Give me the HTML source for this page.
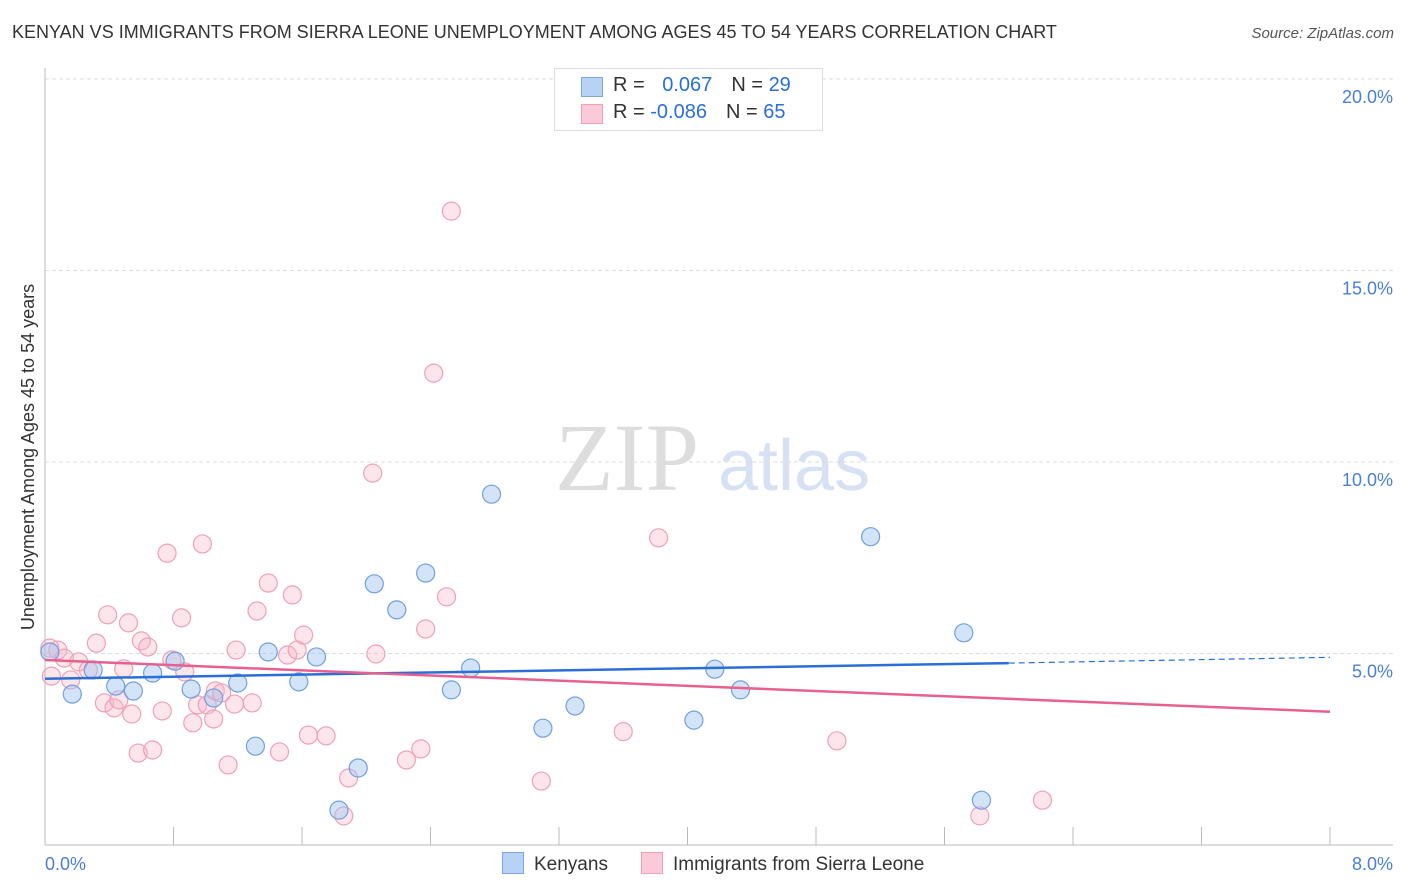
<!DOCTYPE html>
<html><head><meta charset="utf-8"><style>
body{margin:0;background:#fff;font-family:"Liberation Sans",sans-serif;}
#wrap{position:relative;width:1406px;height:892px;overflow:hidden}
.t{position:absolute;white-space:nowrap}
</style></head><body><div id="wrap">
<div class="t" style="left:12px;top:22px;font-size:18px;color:#333">KENYAN VS IMMIGRANTS FROM SIERRA LEONE UNEMPLOYMENT AMONG AGES 45 TO 54 YEARS CORRELATION CHART</div>
<div class="t" style="right:12px;top:25px;font-size:15px;color:#555;font-style:italic">Source: ZipAtlas.com</div>
<svg id="svg" width="1406" height="892" style="position:absolute;left:0;top:0"></svg>
</div>
<script>
const xTicks=[0,8];
const yTicks=[5,10,15,20];
const blueX=[0.03,0.17,0.30,0.44,0.55,0.67,0.81,0.91,1.05,1.20,1.31,1.39,1.58,1.69,1.83,1.95,2.05,2.19,2.37,2.53,2.65,2.78,3.10,3.30,4.04,4.17,4.33,5.14,5.72,5.83];
const blueY=[5.04,3.94,4.57,4.15,4.02,4.49,4.80,4.07,3.84,4.23,2.58,5.04,4.26,4.91,0.91,2.01,6.82,6.14,7.10,4.05,4.62,9.16,3.05,3.63,3.26,4.59,4.05,8.05,5.54,1.17];
const pinkX=[0.03,0.04,0.08,0.12,0.16,0.21,0.27,0.32,0.37,0.39,0.43,0.46,0.49,0.52,0.54,0.58,0.60,0.64,0.67,0.73,0.76,0.79,0.85,0.87,0.92,0.95,0.98,1.01,1.05,1.06,1.10,1.14,1.18,1.19,1.29,1.32,1.39,1.46,1.51,1.54,1.57,1.61,1.64,1.75,1.89,1.86,2.04,2.06,2.25,2.34,2.37,2.42,2.50,2.53,3.09,3.60,3.82,4.93,5.82,6.21];
const pinkY=[5.14,4.41,5.09,4.88,4.31,4.78,4.57,5.27,3.71,6.01,3.58,3.79,4.60,5.80,3.42,2.40,5.33,5.17,2.48,3.50,7.62,4.83,5.93,4.52,3.19,3.66,7.86,3.66,3.29,4.02,3.97,2.09,3.68,5.09,3.71,6.11,6.84,2.43,4.96,6.53,5.09,5.48,2.87,2.85,1.75,0.76,9.71,4.99,2.22,2.51,5.64,12.32,6.48,16.55,1.67,2.96,8.02,2.72,0.76,1.17];
const blueLine=[[0,4.34],[6.0,4.75],[8,4.9]];
const pinkLine=[[0,4.83],[8,3.48]];
const X0=45,X1=1330,Y0=845,YS=191.5/5;
const sx=v=>X0+(X1-X0)*v/8, sy=v=>Y0-v*YS;
const svg=document.getElementById('svg');const NS='http://www.w3.org/2000/svg';
function mk(t,a){const e=document.createElementNS(NS,t);for(const k in a)e.setAttribute(k,a[k]);svg.appendChild(e);return e;}
// watermark
let w=mk('text',{x:555,y:490,'font-size':96,'font-family':'Liberation Serif,serif',fill:'#ddd'});w.textContent='ZIP';


w=mk('text',{x:718,y:490,'font-size':72,'font-family':'Liberation Sans,sans-serif',fill:'#d6e2f3'});w.textContent='atlas';


yTicks.forEach(v=>{
 let g=mk('line',{x1:X0,x2:1393,y1:sy(v),y2:sy(v),stroke:'#ddd','stroke-dasharray':'4,3'});
 
 
 let t=mk('text',{x:1393,y:sy(v)+24,'text-anchor':'end','font-size':18,fill:'#4a7fd4'});t.textContent=v.toFixed(1)+'%';
 
 
});
let ax=mk('line',{x1:X0,x2:X0,y1:68,y2:Y0,stroke:'#bbb'});


ax=mk('line',{x1:X0,x2:1393,y1:Y0,y2:Y0,stroke:'#bbb'});


for(let i=1;i<=10;i++){const x=X0+i*128.5;let tk=mk('line',{x1:x,x2:x,y1:Y0-18,y2:Y0,stroke:'#bbb'});
 
 }
xTicks.forEach((v,i)=>{let t=mk('text',{x:i?1393:45,y:870,'text-anchor':i?'end':'start','font-size':18,fill:'#4a7fd4'});t.textContent=v.toFixed(1)+'%';
 
 });
let yt=mk('text',{x:34,y:457,'text-anchor':'middle','font-size':18,fill:'#333',transform:'rotate(-90 34 457)'});yt.textContent='Unemployment Among Ages 45 to 54 years';


function dots(xs,ys,f,s,n){xs.forEach((x,i)=>{let c=mk('circle',{cx:sx(x),cy:sy(ys[i]),r:9,fill:f,stroke:s,'stroke-width':1.2});
 
 });}
dots(pinkX,pinkY,'rgba(248,180,200,0.35)','#f0a0b8','point-sierra-leone');
dots(blueX,blueY,'rgba(160,196,240,0.45)','#6fa0e0','point-kenyan');
let l=mk('line',{x1:sx(blueLine[0][0]),y1:sy(blueLine[0][1]),x2:sx(blueLine[1][0]),y2:sy(blueLine[1][1]),stroke:'#2a6fd6','stroke-width':2.5});


l=mk('line',{x1:sx(blueLine[1][0]),y1:sy(blueLine[1][1]),x2:sx(blueLine[2][0]),y2:sy(blueLine[2][1]),stroke:'#2a6fd6','stroke-width':1.2,'stroke-dasharray':'6,4'});


l=mk('line',{x1:sx(pinkLine[0][0]),y1:sy(pinkLine[0][1]),x2:sx(pinkLine[1][0]),y2:sy(pinkLine[1][1]),stroke:'#e8608e','stroke-width':2.5});


</script>
<div class="t" style="left:554px;top:68px;width:267px;height:61px;border:1px solid #ddd;background:#fff;font-size:20px;color:#333">
 <div style="position:absolute;left:26px;top:8px;width:20px;height:18px;background:#b8d2f5;border:1px solid #7aa6e6"></div>
 <div style="position:absolute;left:58px;top:5px">R = <span style="color:#2a6fd6;margin-left:12px">0.067</span><span style="margin-left:19px">N = </span><span style="color:#2a6fd6">29</span></div>
 <div style="position:absolute;left:26px;top:35px;width:20px;height:18px;background:#fbcad8;border:1px solid #f0a0b8"></div>
 <div style="position:absolute;left:58px;top:32px">R = <span style="color:#2a6fd6">-0.086</span><span style="margin-left:19px">N = </span><span style="color:#2a6fd6">65</span></div>
</div>
<div class="t" style="left:502px;top:852px;font-size:19px;color:#333"><span style="display:inline-block;width:20px;height:20px;background:#b8d2f5;border:1px solid #7aa6e6;vertical-align:-4px;margin-right:10px"></span>Kenyans</div>
<div class="t" style="left:641px;top:852px;font-size:19px;color:#333"><span style="display:inline-block;width:20px;height:20px;background:#fbcad8;border:1px solid #f0a0b8;vertical-align:-4px;margin-right:10px"></span>Immigrants from Sierra Leone</div>
</body></html>
